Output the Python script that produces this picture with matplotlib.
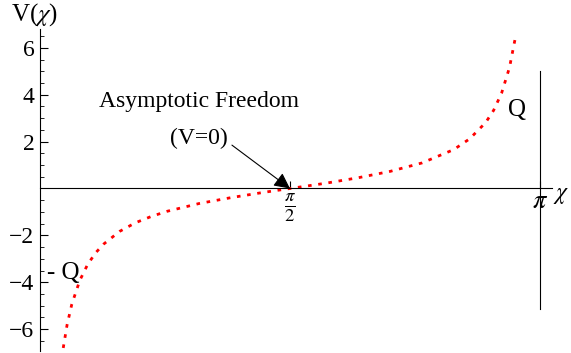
import numpy as np
import matplotlib
matplotlib.use("Agg")
import matplotlib.pyplot as plt
from matplotlib.ticker import FixedLocator

plt.rcParams["font.family"] = ["Liberation Serif", "DejaVu Serif"]
plt.rcParams["mathtext.fontset"] = "stix"

# curve values
chi = [0.146, 0.17, 0.2, 0.25, 0.3, 0.35, 0.4, 0.5, 0.6, 0.7, 0.8, 1.0, 1.2, 1.4,
       1.5708, 1.8, 2.0, 2.2, 2.4, 2.6, 2.7, 2.8, 2.85, 2.9, 2.95, 2.99]
V = [-6.80, -5.82, -4.93, -3.92, -3.23, -2.74, -2.37, -1.83, -1.46, -1.19, -0.97,
     -0.64, -0.39, -0.17, 0.0, 0.23, 0.46, 0.73, 1.09, 1.66, 2.12, 2.81, 3.33,
     4.06, 5.16, 6.54]

y_ticks = [-6, -4, -2, 2, 4, 6]
x_ticks = [np.pi / 2, np.pi]
x_ticklabels = [r"$\frac{\pi}{2}$", r"$\pi$"]

fig = plt.figure(figsize=(5.71, 3.53), dpi=100)
ax = fig.add_axes([0, 0, 1, 1])
ax.set_xlim(-40 / 159.15, 531 / 159.15)
ax.set_ylim(-164.5 / 23.45, 188.5 / 23.45)

for s in ["top", "right"]:
    ax.spines[s].set_visible(False)
ax.spines["left"].set_position(("data", 0))
ax.spines["bottom"].set_position(("data", 0))
ax.spines["left"].set_bounds(-6.95, 6.8)
ax.spines["bottom"].set_bounds(0, 3.22)
for s in ["left", "bottom"]:
    ax.spines[s].set_linewidth(0.8)

ax.plot(chi, V, color="red", lw=2, linestyle=(0, (1.3, 2.4)))

# vertical line at pi
ax.plot([np.pi, np.pi], [-5.15, 5.0], color="black", lw=0.8)

ax.set_yticks(y_ticks)
ax.set_yticklabels([str(t).replace("-", "\u2212") for t in y_ticks], fontsize=17)
ax.yaxis.set_minor_locator(FixedLocator(np.arange(-6.5, 6.6, 0.5)))
ax.tick_params(axis="y", which="major", direction="in", length=6, width=0.8, pad=4)
ax.tick_params(axis="y", which="minor", direction="in", length=3, width=0.6)

ax.set_xticks(x_ticks)
ax.set_xticklabels(x_ticklabels, fontsize=19)
ax.tick_params(axis="x", which="major", direction="in", length=5, width=0.8, pad=2)

ax.annotate("", xy=(np.pi / 2, 0), xytext=(1.206, 1.85),
            arrowprops=dict(arrowstyle="-|>", color="black", lw=0.8,
                            mutation_scale=24, shrinkA=0, shrinkB=0))
ax.text(1.0, 3.7, "Asymptotic Freedom", fontsize=17, ha="center", va="center")
ax.text(0.996, 2.15, "(V=0)", fontsize=17, ha="center", va="center")
ax.text(3.0, 3.35, "Q", fontsize=18, ha="center", va="center")
ax.text(0.148, -3.6, "- Q", fontsize=18, ha="center", va="center")

fig.text(35 / 571, 1 - 15 / 353, r"V($\chi$)", fontsize=18, ha="center", va="center")
fig.text(561 / 571, 1 - 196 / 353, r"$\chi$", fontsize=17, ha="center", va="center")

fig.savefig("out.png", dpi=100)
